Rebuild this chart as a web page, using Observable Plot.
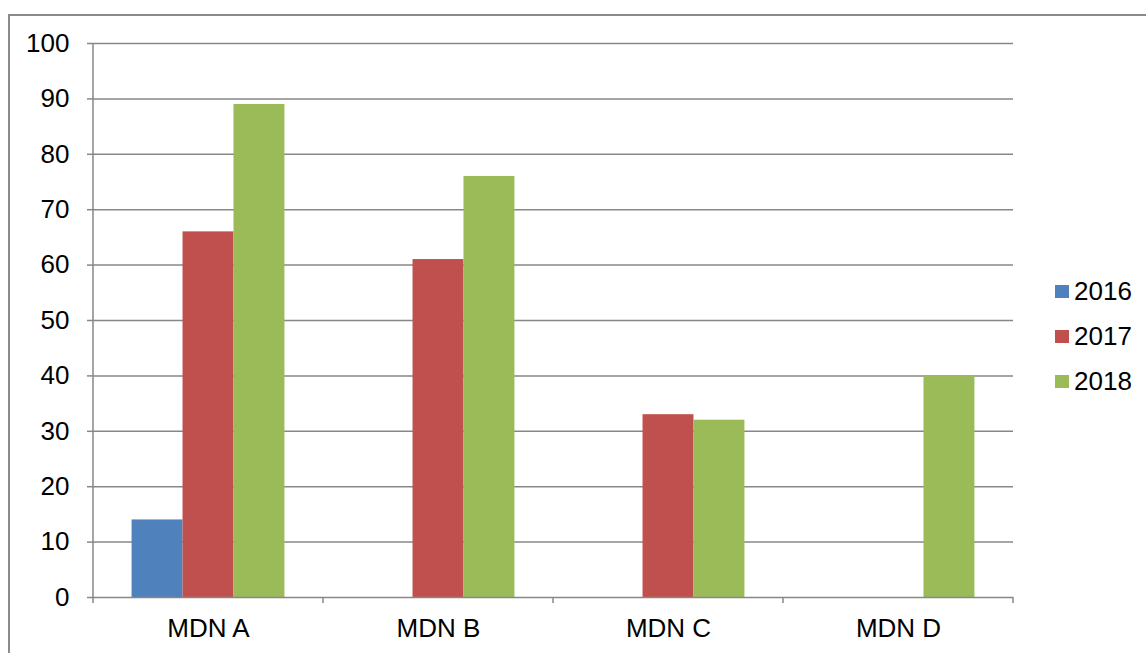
<!DOCTYPE html>
<html>
<head>
<meta charset="utf-8">
<script src="https://cdn.jsdelivr.net/npm/d3@7"></script>
<script src="https://cdn.jsdelivr.net/npm/@observablehq/plot@0.6"></script>
<style>
  html, body { margin: 0; padding: 0; background: #fff; }
  #wrap { position: relative; width: 1146px; height: 653px; overflow: hidden; font-family: "Liberation Sans", Arial, sans-serif; }
  #frame { position: absolute; left: 8px; top: 14px; width: 1300px; height: 800px; border: 2px solid #8a8a8a; box-sizing: border-box; }
  #chart { position: absolute; left: 0; top: 0; }
  #legend { position: absolute; left: 1055px; top: 269px; font-size: 26px; color: #000; }
  .item { display: flex; align-items: center; height: 45px; }
  .sw { width: 14px; height: 13px; margin-right: 5px; }
</style>
</head>
<body>
<div id="wrap">
  <div id="frame"></div>
  <div id="chart"></div>
  <div id="legend"></div>
</div>
<script>
const categories = ["MDN A", "MDN B", "MDN C", "MDN D"];
const years = ["2016", "2017", "2018"];
const values2016 = [14, null, null, null];
const values2017 = [66, 61, 33, null];
const values2018 = [89, 76, 32, 40];
const yTicks = [0, 10, 20, 30, 40, 50, 60, 70, 80, 90, 100];
const colors = ["#4F81BD", "#C0504D", "#9BBB59"];

const series = [values2016, values2017, values2018];
const data = [];
categories.forEach((cat, i) => {
  years.forEach((yr, j) => {
    const v = series[j][i];
    if (v != null) data.push({cat, year: yr, value: v});
  });
});

const gridColor = "#878787";

const chart = Plot.plot({
  width: 1146,
  height: 653,
  marginLeft: 92,
  marginRight: 133,
  marginTop: 43,
  marginBottom: 56,
  style: {fontFamily: "'Liberation Sans', Arial, sans-serif", fontSize: "26px", color: "#000", background: "transparent", overflow: "visible"},
  fx: {domain: categories, padding: 0, label: null},
  x: {domain: years, paddingInner: 0, paddingOuter: 0.757, round: false, axis: null},
  y: {domain: [0, 100], label: null},
  color: {domain: years, range: colors},
  marks: [
    Plot.ruleY(yTicks.filter(d => d > 0), {stroke: gridColor, strokeWidth: 1.5}),
    Plot.barY(data, {fx: "cat", x: "year", y: "value", fill: "year"}),
    Plot.ruleY([0], {stroke: gridColor, strokeWidth: 1.5}),
    Plot.axisY(yTicks, {tickSize: 6, tickPadding: 18, stroke: gridColor, strokeWidth: 1.5, fontSize: 26, label: null}),
    Plot.axisFx({anchor: "bottom", tickSize: 0, tickPadding: 21, fontSize: 26, label: null})
  ]
});
document.getElementById("chart").appendChild(chart);

// category boundary ticks and vertical axis line, positioned through the plot's scales
const fx = chart.scale("fx");
const y = chart.scale("y");
const svg = d3.select(chart);
const y0 = y.apply(0), y100 = y.apply(100);
const bounds = categories.map(c => fx.apply(c));
bounds.push(fx.apply(categories[categories.length - 1]) + fx.bandwidth);
const g = svg.append("g").attr("stroke", gridColor).attr("stroke-width", 1.5);
bounds.forEach(bx => {
  g.append("line").attr("x1", bx).attr("x2", bx).attr("y1", y0).attr("y2", y0 + 6);
});
g.append("line").attr("x1", bounds[0]).attr("x2", bounds[0]).attr("y1", y100).attr("y2", y0);

// legend
const legend = document.getElementById("legend");
years.forEach((yr, i) => {
  const item = document.createElement("div");
  item.className = "item";
  const sw = document.createElement("div");
  sw.className = "sw";
  sw.style.background = colors[i];
  const t = document.createElement("span");
  t.textContent = yr;
  item.appendChild(sw);
  item.appendChild(t);
  legend.appendChild(item);
});
</script>
</body>
</html>
